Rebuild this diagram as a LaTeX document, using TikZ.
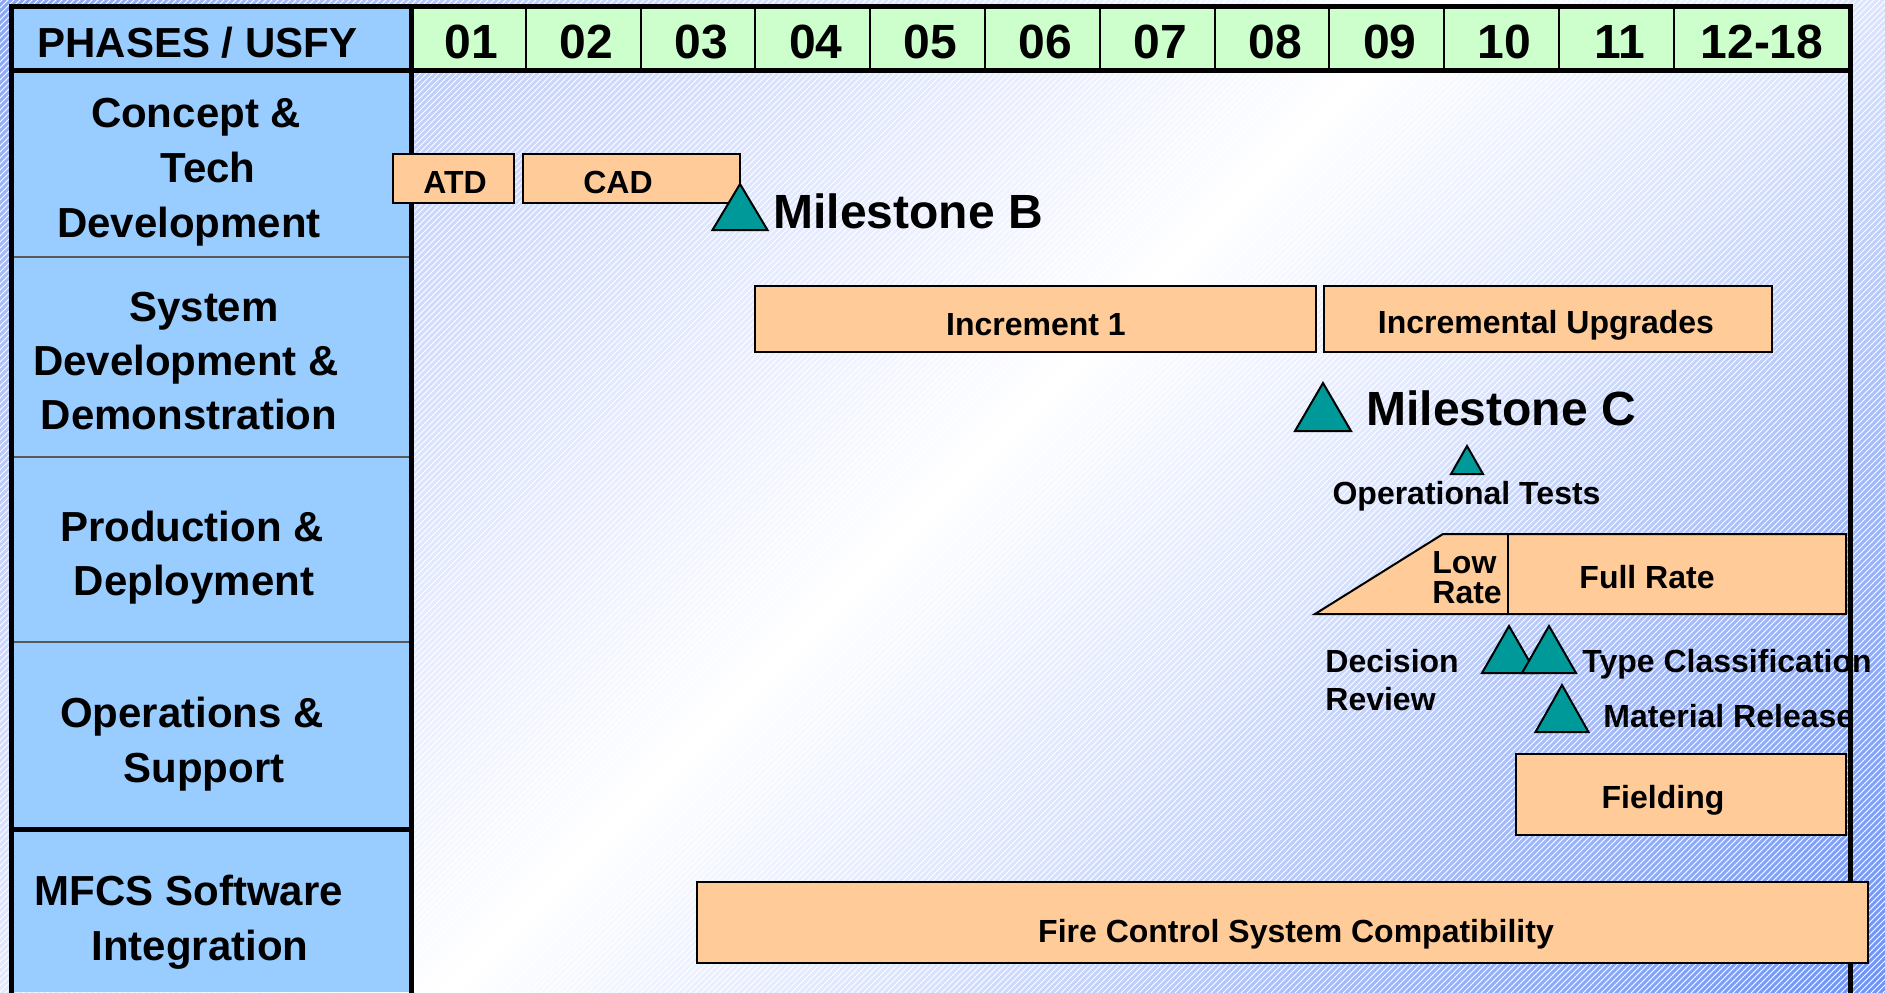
\documentclass[tikz,border=0pt]{standalone}
\usepackage{fontspec}
\setmainfont{Liberation Sans}
\usetikzlibrary{positioning, patterns, calc}

\definecolor{phaseblue}{HTML}{99CCFF}
\definecolor{yeargreen}{HTML}{CCFFCC}
\definecolor{barpeach}{HTML}{FFCC99}
\definecolor{msteal}{HTML}{009999}
\definecolor{bgA}{HTML}{8CA8F2}
\definecolor{bgB}{HTML}{CCD6FA}
\definecolor{bgC}{HTML}{DCE4FC}
\definecolor{bgD}{HTML}{A4BAF8}
\definecolor{bgE}{HTML}{6F94F6}

\pgfdeclarehorizontalshading{slidebg}{100bp}{color(0bp)=(bgA); color(15bp)=(bgA);
  color(30bp)=(bgB); color(50bp)=(white); color(61bp)=(bgC); color(72bp)=(bgD);
  color(85bp)=(bgE); color(100bp)=(bgE)}

\tikzstyle{bar}=[fill=barpeach, draw=black, line width=1pt]
\tikzstyle{mstone}=[fill=msteal, draw=black, line width=1pt]
\tikzstyle{barlbl}=[anchor=base, inner sep=0pt, font={\fontsize{16}{19}\selectfont\bfseries}]
\tikzstyle{notelbl}=[anchor=base west, inner sep=0pt, font={\fontsize{16}{19}\selectfont\bfseries}]
\tikzstyle{mslbl}=[anchor=base west, inner sep=0pt, font={\fontsize{24}{29}\selectfont\bfseries}]
\tikzstyle{phaselbl}=[anchor=base, inner sep=0pt, font={\fontsize{21}{25}\selectfont\bfseries}]
\tikzstyle{yearlbl}=[anchor=base, inner sep=0pt, font={\fontsize{24}{29}\selectfont\bfseries}]
\tikzstyle{gridthick}=[draw=black, line width=2.5pt, line cap=rect]
\tikzstyle{gridthin}=[draw=black, line width=1pt]
\tikzstyle{rowsep}=[draw=black!65, line width=1pt]

\begin{document}
\begin{tikzpicture}[x=0.5pt, y=-0.5pt]

\newcommand\XO{411}
\newcommand\W{114.8}
\newcommand\XE{1850}

\newcommand\mstri[4]{\draw[mstone] (#1,#2) -- ++(#3/2,#4) -- ++(-#3,0) -- cycle;}

%% background
\useasboundingbox (0,0) rectangle (1885,992);
\shade[shading=slidebg, shading angle=-45] (0,0) rectangle (1885,992);
\fill[pattern=north east lines, pattern color=white, fill opacity=0.12] (0,0) rectangle (1885,992);

%% table
\fill[phaseblue] (11.5,6.5) rectangle (\XO,992);
\fill[yeargreen] (\XO,6.5) rectangle (\XE,70.5);

\draw[gridthin] (\XO+1*\W,6.5) -- (\XO+1*\W,70.5);
\draw[gridthin] (\XO+2*\W,6.5) -- (\XO+2*\W,70.5);
\draw[gridthin] (\XO+3*\W,6.5) -- (\XO+3*\W,70.5);
\draw[gridthin] (\XO+4*\W,6.5) -- (\XO+4*\W,70.5);
\draw[gridthin] (\XO+5*\W,6.5) -- (\XO+5*\W,70.5);
\draw[gridthin] (\XO+6*\W,6.5) -- (\XO+6*\W,70.5);
\draw[gridthin] (\XO+7*\W,6.5) -- (\XO+7*\W,70.5);
\draw[gridthin] (\XO+8*\W,6.5) -- (\XO+8*\W,70.5);
\draw[gridthin] (\XO+9*\W,6.5) -- (\XO+9*\W,70.5);
\draw[gridthin] (\XO+10*\W,6.5) -- (\XO+10*\W,70.5);
\draw[gridthin] (\XO+11*\W,6.5) -- (\XO+11*\W,70.5);

\draw[rowsep] (11.5,257) -- (\XO,257);
\draw[rowsep] (11.5,457) -- (\XO,457);
\draw[rowsep] (11.5,642) -- (\XO,642);

\draw[gridthick] (11.5,6.5) -- (\XE,6.5);
\draw[gridthick] (11.5,70.5) -- (\XE,70.5);
\draw[gridthick] (11.5,6.5) -- (11.5,992);
\draw[gridthick] (\XO,6.5) -- (\XO,992);
\draw[gridthick] (11.5,829) -- (\XO,829);
%%

\node[phaselbl] (usfy) at (197.5,57) {PHASES / USFY};

\node[yearlbl] (y01) at (\XO+0.5*\W+3,58) {01};
\node[yearlbl] (y02) at (\XO+1.5*\W+3,58) {02};
\node[yearlbl] (y03) at (\XO+2.5*\W+3,58) {03};
\node[yearlbl] (y04) at (\XO+3.5*\W+3,58) {04};
\node[yearlbl] (y05) at (\XO+4.5*\W+3,58) {05};
\node[yearlbl] (y06) at (\XO+5.5*\W+3,58) {06};
\node[yearlbl] (y07) at (\XO+6.5*\W+3,58) {07};
\node[yearlbl] (y08) at (\XO+7.5*\W+3,58) {08};
\node[yearlbl] (y09) at (\XO+8.5*\W+3,58) {09};
\node[yearlbl] (y10) at (\XO+9.5*\W+3,58) {10};
\node[yearlbl] (y11) at (\XO+10.5*\W+3,58) {11};
\node[yearlbl] (y12) at (1762,58) {12-18};

\node[phaselbl] (pc1) at (196,127) {Concept \&};
\node[phaselbl] (pc2) at (208,182) {Tech};
\node[phaselbl] (pc3) at (189,237) {Development};
\node[phaselbl] (ps1) at (204,321) {System};
\node[phaselbl] (ps2) at (186,375) {Development \&};
\node[phaselbl] (ps3) at (189,429) {Demonstration};
\node[phaselbl] (pp1) at (192,541) {Production \&};
\node[phaselbl] (pp2) at (194,595) {Deployment};
\node[phaselbl] (po1) at (192,727) {Operations \&};
\node[phaselbl] (po2) at (204,782) {Support};
\node[phaselbl] (pm1) at (189,905) {MFCS Software};
\node[phaselbl] (pm2) at (200,960) {Integration};

%% concept & tech development
\draw[bar] (393,154) rectangle (514,203);
\node[barlbl] (atd) at (455,193) {ATD};
\draw[bar] (523,154) rectangle (740,203);
\node[barlbl] (cad) at (618,193) {CAD};
\mstri{740}{184}{55}{46}
\node[mslbl] (msb) at (773,228) {Milestone B};

%% system development & demonstration
\draw[bar] (755,286) rectangle (1316,352);
\node[barlbl] (inc1) at (1036,335) {Increment 1};
\draw[bar] (1324,286) rectangle (1772,352);
\node[barlbl] (incup) at (1546,333) {Incremental Upgrades};

\mstri{1323}{383}{56}{48}
\node[mslbl] (msc) at (1366,425) {Milestone C};
\mstri{1467}{446}{32}{28}
\node[barlbl] (optest) at (1466.5,504) {Operational Tests};

%% production & deployment
\draw[bar] (1315,614) -- (1443,534) -- (1846,534) -- (1846,614) -- cycle;
\draw[bar] (1508,534) -- (1508,614);
\node[notelbl] (low) at (1432,573) {Low};
\node[notelbl] (rate) at (1432,603) {Rate};
\node[barlbl] (fullrate) at (1647,588) {Full Rate};

\node[notelbl] (decis) at (1325,672) {Decision};
\node[notelbl] (review) at (1325,710) {Review};
\mstri{1509}{626}{54}{47}
\mstri{1549}{626}{54}{47}
\node[notelbl] (typecl) at (1582,672) {Type Classification};
\mstri{1562}{685}{53}{47}
\node[notelbl] (matrel) at (1603,727) {Material Release};

%% operations & support
\draw[bar] (1516,754) rectangle (1846,835);
\node[barlbl] (field) at (1663,808) {Fielding};

\draw[gridthick] (\XE,6.5) -- (\XE,992);

%% mfcs software integration
\draw[bar] (697,882) rectangle (1868,963);
\node[barlbl] (fcsc) at (1296,942) {Fire Control System Compatibility};

\end{tikzpicture}
\end{document}
